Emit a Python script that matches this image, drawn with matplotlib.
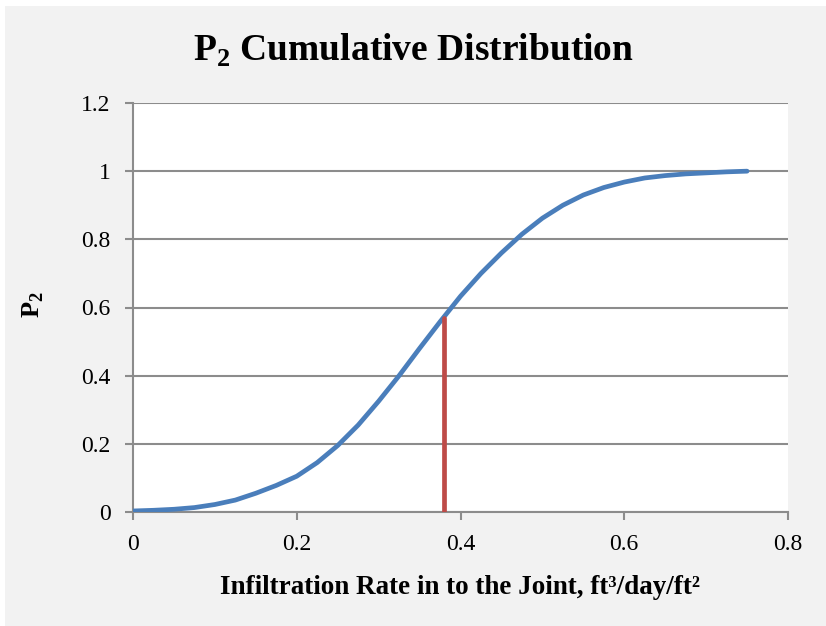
import matplotlib
matplotlib.use("Agg")
import matplotlib.pyplot as plt
from matplotlib.patches import Rectangle

plt.rcParams['font.family'] = ['Liberation Serif', 'DejaVu Serif']
plt.rcParams['mathtext.fontset'] = 'custom'
plt.rcParams['mathtext.rm'] = 'Liberation Serif'
plt.rcParams['mathtext.bf'] = 'Liberation Serif:bold'

# values
rate = [0.000, 0.025, 0.050, 0.075, 0.100, 0.125, 0.150, 0.175, 0.200, 0.225,
        0.250, 0.275, 0.300, 0.325, 0.350, 0.375, 0.400, 0.425, 0.450, 0.475,
        0.500, 0.525, 0.550, 0.575, 0.600, 0.625, 0.650, 0.675, 0.700, 0.725, 0.750]
p2 = [0.003, 0.005, 0.008, 0.013, 0.022, 0.035, 0.055, 0.078, 0.105, 0.145,
      0.195, 0.255, 0.325, 0.400, 0.480, 0.558, 0.633, 0.700, 0.760, 0.815,
      0.862, 0.900, 0.930, 0.952, 0.968, 0.980, 0.987, 0.992, 0.995, 0.998, 1.000]
marker_x = [0.38, 0.38]
marker_y = [0.0, 0.57]

xticks = [0, 0.2, 0.4, 0.6, 0.8]
xticklabels = ['0', '0.2', '0.4', '0.6', '0.8']
yticks = [0, 0.2, 0.4, 0.6, 0.8, 1.0, 1.2]
yticklabels = ['0', '0.2', '0.4', '0.6', '0.8', '1', '1.2']

fig = plt.figure(figsize=(8.26, 6.26), dpi=100, facecolor='white')
fig.patches.append(Rectangle((5 / 826, 0), 1, 1 - 6 / 626, transform=fig.transFigure,
                             facecolor='#F2F2F2', edgecolor='none', zorder=-10))

ax = fig.add_axes([133 / 826, 1 - 512 / 626, 655 / 826, 409 / 626])
ax.set_facecolor('white')

ax.plot(rate, p2, color='#4A7EBB', lw=3.4, solid_capstyle='round',
        solid_joinstyle='round', zorder=3)
ax.plot(marker_x, marker_y, color='#BE4B48', lw=3.4, solid_capstyle='round', zorder=4)

ax.set_xlim(0, 0.8)
ax.set_ylim(0, 1.2)
ax.set_xticks(xticks)
ax.set_xticklabels(xticklabels)
ax.set_yticks(yticks)
ax.set_yticklabels(yticklabels)
ax.grid(axis='y', color='#8C8C8C', lw=1.5)
ax.set_axisbelow(True)

for s in ['top', 'right']:
    ax.spines[s].set_visible(False)
for s in ['left', 'bottom']:
    ax.spines[s].set_color('#8C8C8C')
    ax.spines[s].set_linewidth(1.5)

ax.tick_params(axis='both', colors='#8C8C8C', width=1.5, length=6, labelsize=17,
               labelcolor='black')
ax.tick_params(axis='x', pad=10)
ax.tick_params(axis='y', pad=10)

fig.text(0.5, 1 - 50 / 626, r'P$_\mathbf{2}$ Cumulative Distribution', ha='center', va='center',
         fontsize=27, fontweight='bold')
ax.set_xlabel('Infiltration Rate in to the Joint, ft³/day/ft²', fontsize=19.5, fontweight='bold',
              labelpad=14)
fig.text(33 / 826, 1 - 305 / 626, r'P$_\mathbf{2}$', rotation=90, ha='center', va='center',
         fontsize=19, fontweight='bold')

fig.savefig('out.png', dpi=100, facecolor=fig.get_facecolor())
